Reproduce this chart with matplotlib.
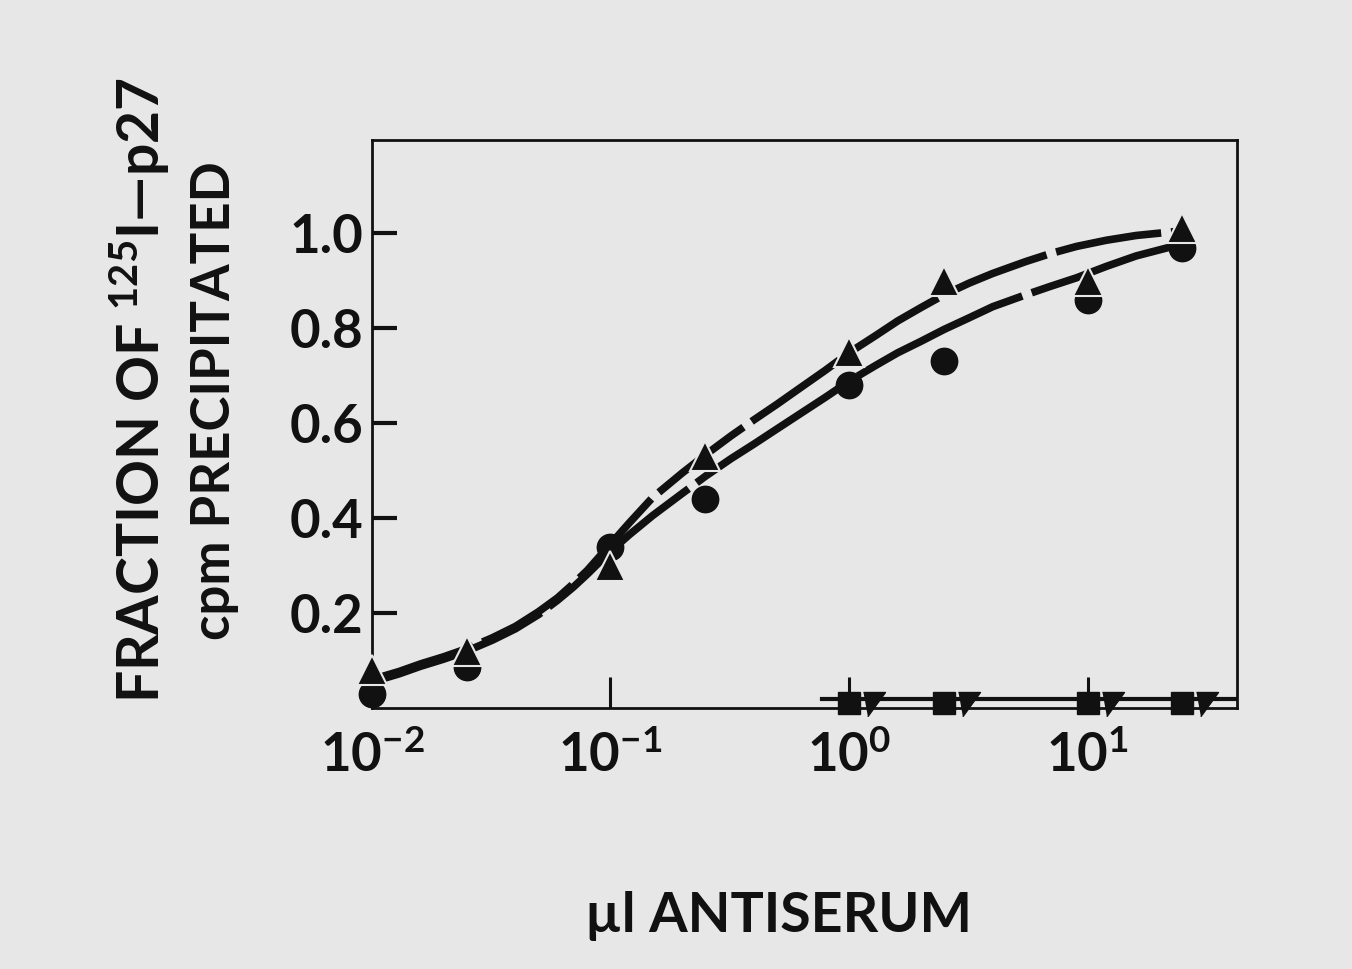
import matplotlib
matplotlib.use("Agg")
import matplotlib.pyplot as plt
from matplotlib.transforms import offset_copy

# µl antiserum doses
DOSE = [0.01, 0.025, 0.1, 0.25, 1.0, 2.5, 10, 25]
TRI = [0.08, 0.12, 0.30, 0.53, 0.75, 0.90, 0.90, 1.01]
CIRC = [0.03, 0.087, 0.34, 0.44, 0.68, 0.73, 0.86, 0.968]

# hand-drawn fit curves
UP_X = [0.01, 0.013, 0.016, 0.02, 0.025, 0.032, 0.04, 0.05, 0.06, 0.07,
        0.08, 0.1, 0.12, 0.15, 0.2, 0.25, 0.32, 0.4, 0.5, 0.6, 0.8, 1.0,
        1.3, 1.6, 2.0, 2.5, 3.2, 4, 5.5, 7, 9, 12, 16, 23]
UP_Y = [0.06, 0.077, 0.093, 0.108, 0.125, 0.148, 0.172, 0.203, 0.232,
        0.262, 0.29, 0.345, 0.39, 0.443, 0.495, 0.533, 0.573, 0.607, 0.64,
        0.668, 0.712, 0.748, 0.785, 0.815, 0.843, 0.87, 0.895, 0.915, 0.94,
        0.957, 0.972, 0.985, 0.995, 1.003]
LO_X = [0.01, 0.013, 0.016, 0.02, 0.025, 0.032, 0.04, 0.05, 0.06, 0.07,
        0.08, 0.1, 0.12, 0.15, 0.2, 0.25, 0.32, 0.4, 0.5, 0.6, 0.8, 1.0,
        1.3, 1.6, 2.0, 2.5, 3.2, 4, 5.5, 7, 9, 12, 16, 24]
LO_Y = [0.055, 0.072, 0.088, 0.103, 0.12, 0.143, 0.167, 0.197, 0.227,
        0.255, 0.282, 0.33, 0.365, 0.405, 0.452, 0.488, 0.525, 0.556, 0.588,
        0.614, 0.655, 0.688, 0.722, 0.748, 0.772, 0.797, 0.822, 0.845, 0.87,
        0.888, 0.906, 0.93, 0.952, 0.975]

# controls (squares / inverted wedges) near zero
CTRL_X = [1.0, 2.5, 10, 25]
CTRL_Y = [0.01, 0.01, 0.01, 0.01]
BASE_X = [0.77, 42]
BASE_Y = [0.018, 0.018]

XTICKS = [0.01, 0.1, 1, 10]
XLABELS = [r"$\mathregular{10^{-2}}$", r"$\mathregular{10^{-1}}$",
           r"$\mathregular{10^{0}}$", r"$\mathregular{10^{1}}$"]
YTICKS = [0.2, 0.4, 0.6, 0.8, 1.0]
YLABELS = ["0.2", "0.4", "0.6", "0.8", "1.0"]

INK = "#111111"
BG = "#e7e7e7"

plt.rcParams["font.family"] = ["Lato", "DejaVu Sans"]
plt.rcParams["font.weight"] = "bold"
plt.rcParams["mathtext.fontset"] = "custom"
plt.rcParams["mathtext.rm"] = "Lato:bold"

fig = plt.figure(figsize=(13.52, 9.69), dpi=100, facecolor=BG)
ax = fig.add_axes([0.2751, 0.2693, 0.6398, 0.5862], facecolor=BG)

up, = ax.plot(UP_X, UP_Y, "-", color=INK, lw=5.5, solid_capstyle="butt")
up.set_dashes([14, 1.3])
lo, = ax.plot(LO_X, LO_Y, "-", color=INK, lw=5.5, solid_capstyle="butt")
lo.set_dashes([24, 1.3])

ax.plot(DOSE, CIRC, "o", color=INK, ms=19, mec=INK, clip_on=False, zorder=3)
ax.plot(DOSE, TRI, "^", color=INK, ms=22, mec=BG, mew=1.5, clip_on=False,
        zorder=4)

# control series
ax.plot(BASE_X, BASE_Y, "-", color=INK, lw=3, zorder=2)
ax.plot(CTRL_X, CTRL_Y, "s", color=INK, ms=16.5, clip_on=False, zorder=3)
wedge = [(-1, 1), (1, 1), (-0.6, -1.2)]
tr = offset_copy(ax.transData, fig=fig, x=18, y=0, units="points")
ax.plot(CTRL_X, CTRL_Y, linestyle="none", marker=wedge, color=INK, ms=19,
        transform=tr, clip_on=False, zorder=3)

ax.set_xscale("log")
ax.set_xlim(0.01, 42.3)
ax.set_ylim(0, 1.196)
ax.minorticks_off()
ax.set_xticks(XTICKS)
ax.set_xticklabels(XLABELS)
ax.set_yticks(YTICKS)
ax.set_yticklabels(YLABELS)
ax.tick_params(axis="x", direction="in", length=22, width=2.2, pad=16,
               labelsize=38, colors=INK)
ax.tick_params(axis="y", direction="in", length=18, width=3, pad=6,
               labelsize=38, colors=INK)
for s in ax.spines.values():
    s.set_linewidth(2)
    s.set_color(INK)

fig.text(0.1036, 0.5975, r"FRACTION OF $\mathregular{^{125}}$I—p27",
         rotation=90, ha="center", va="center", fontsize=41, color=INK)
fig.text(0.159, 0.587, "cpm PRECIPITATED", rotation=90, ha="center",
         va="center", fontsize=38, color=INK)
fig.text(0.576, 0.055, "µl ANTISERUM", ha="center", va="center",
         fontsize=40, color=INK)

fig.savefig("out.png", dpi=100, facecolor=BG)
